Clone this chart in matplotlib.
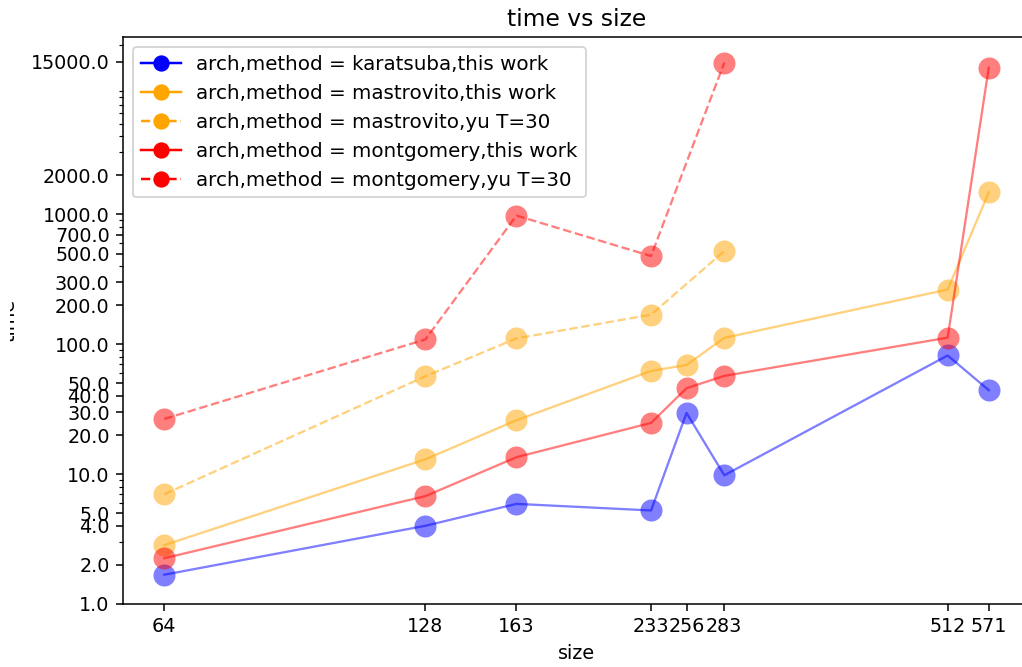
import matplotlib
matplotlib.use("Agg")
import matplotlib.pyplot as plt
from matplotlib.lines import Line2D
from matplotlib.ticker import NullFormatter
from matplotlib.transforms import Bbox, TransformedBbox

# ---- data ----
sizes_all = [64, 128, 163, 233, 256, 283, 512, 571]
sizes_yu = [64, 128, 163, 233, 283]

karatsuba_this = [1.68, 4.0, 5.9, 5.25, 29.6, 9.8, 82, 44.3]
mastrovito_this = [2.84, 13.0, 26.0, 62.3, 69.3, 112, 264, 1477]
mastrovito_yu = [7.0, 56.7, 111, 169, 522]
montgomery_this = [2.25, 6.77, 13.5, 24.8, 45.9, 57.1, 112.5, 13500]
montgomery_yu = [26.6, 109, 980, 478, 14760]

xtick_values = [64, 128, 163, 233, 256, 283, 512, 571]
ytick_values = [1, 2, 4, 5, 10, 20, 30, 40, 50, 100, 200, 300, 500, 700, 1000, 2000, 15000]

series = [
    ("arch,method = karatsuba,this work", sizes_all, karatsuba_this, "blue", "-"),
    ("arch,method = mastrovito,this work", sizes_all, mastrovito_this, "orange", "-"),
    ("arch,method = mastrovito,yu T=30", sizes_yu, mastrovito_yu, "orange", "--"),
    ("arch,method = montgomery,this work", sizes_all, montgomery_this, "red", "-"),
    ("arch,method = montgomery,yu T=30", sizes_yu, montgomery_yu, "red", "--"),
]

DPI = 138
W, H = 1022, 667
fig = plt.figure(figsize=(W / DPI, H / DPI), dpi=DPI)
ax = fig.add_axes([0.1204, 0.0945, 0.8874, 0.85])

handles = []
for label, xs, ys, color, ls in series:
    ax.plot(xs, ys, color=color, linestyle=ls, linewidth=1.2, alpha=0.5,
            marker="o", markersize=11.5, markeredgewidth=0)
    handles.append(Line2D([], [], color=color, linestyle=ls, linewidth=1.3,
                          marker="o", markersize=7.5, label=label))

ax.set_xscale("log", base=2)
ax.set_yscale("log")
ax.set_xticks(xtick_values, labels=[str(v) for v in xtick_values])
ax.xaxis.set_minor_formatter(NullFormatter())
ax.set_yticks(ytick_values, labels=[f"{float(v):.1f}" for v in ytick_values])
ax.yaxis.set_minor_formatter(NullFormatter())

ax.set_title("time vs size", fontsize=12.2)
ax.set_xlabel("size")
ylab = ax.set_ylabel("time", labelpad=6.5)
ylab.set_clip_box(TransformedBbox(Bbox([[10 / W, 0], [1, 1]]), fig.transFigure))
ylab.set_clip_on(True)
ax.legend(handles=handles, loc="upper left", fontsize=10.35)

fig.savefig("out.png", dpi=DPI)
